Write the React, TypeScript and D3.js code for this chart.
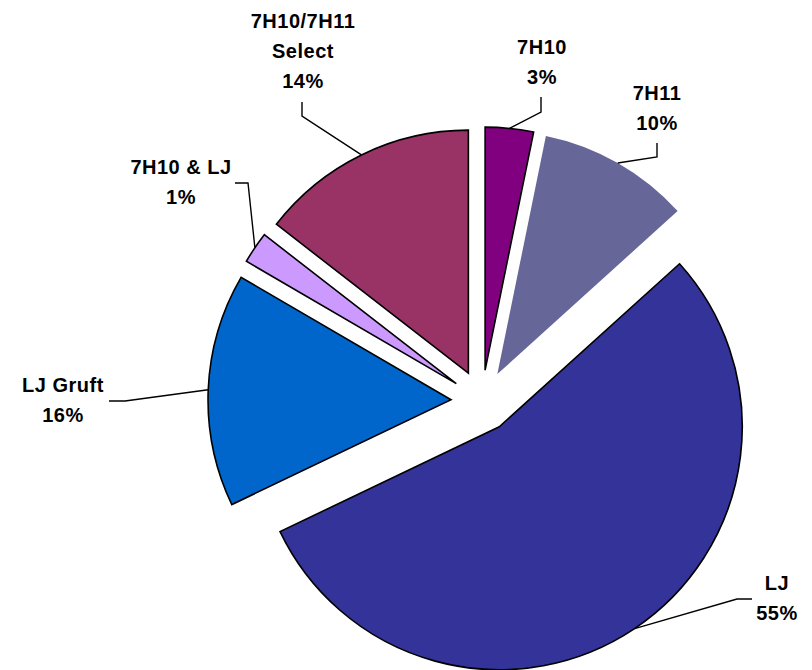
import React from "react";
import * as d3 from "d3";

// ---- data ----
const categories = ["7H10", "7H11", "LJ", "LJ Gruft", "7H10 & LJ", "7H10/7H11 Select"];
const values = [3.2, 10.1, 54.6, 15.5, 2.1, 14.5];
const percentLabels = ["3%", "10%", "55%", "16%", "1%", "14%"];
const labelLines = [["7H10"], ["7H11"], ["LJ"], ["LJ Gruft"], ["7H10 & LJ"], ["7H10/7H11", "Select"]];

// ---- styles / layout ----
const colors = ["#800080", "#666699", "#333399", "#0066CC", "#CC99FF", "#993366"];
const outlined = [true, false, true, true, true, true];
// label block: center x, first baseline y; elbow points of leader line
const labelPos = [
  { x: 542, y: 54, elbow: [[541, 97], [541, 112]] },
  { x: 657, y: 100, elbow: [[657, 143], [657, 157]] },
  { x: 777, y: 590, elbow: [[752, 599], [737, 599]] },
  { x: 63, y: 392, elbow: [[109, 401], [125, 401]] },
  { x: 181, y: 174, elbow: [[235, 183], [248, 183]] },
  { x: 303, y: 28, elbow: [[302, 102], [302, 116]] },
];

const W = 812;
const H = 670;
const cx = 482;
const cy = 401;
const R = 243;
const explode = 31;
const lineH = 30;

export default function App() {
  const pie = d3
    .pie<number>()
    .sort(null)
    .startAngle(0)
    .endAngle(2 * Math.PI)
    .value((d) => d);
  const arcs = pie(values);
  const arcGen = d3.arc<d3.PieArcDatum<number>>().innerRadius(0).outerRadius(R);

  return (
    <svg
      width={W}
      height={H}
      style={{ position: "absolute", left: 0, top: 0, background: "#fff" }}
      fontFamily="'Liberation Sans', Arial, sans-serif"
    >
      {arcs.map((a, i) => {
        const mid = (a.startAngle + a.endAngle) / 2;
        const ox = cx + explode * Math.sin(mid);
        const oy = cy - explode * Math.cos(mid);
        const px = ox + R * Math.sin(mid);
        const py = oy - R * Math.cos(mid);
        const lp = labelPos[i];
        const pts = [...lp.elbow, [px, py]];
        const lines = [...labelLines[i], percentLabels[i]];
        return (
          <g key={categories[i]}>
            <path
              d={arcGen(a) || ""}
              transform={`translate(${ox},${oy})`}
              fill={colors[i]}
              stroke={outlined[i] ? "#000" : "none"}
              strokeWidth={1.6}
              strokeLinejoin="miter"
            />
            <polyline
              points={pts.map((p) => p.join(",")).join(" ")}
              fill="none"
              stroke="#000"
              strokeWidth={1.4}
            />
            <text
              textAnchor="middle"
              fontSize={20}
              fontWeight="bold"
              letterSpacing={0.5}
              fill="#000"
            >
              {lines.map((t, j) => (
                <tspan key={j} x={lp.x} y={lp.y + j * lineH}>
                  {t}
                </tspan>
              ))}
            </text>
          </g>
        );
      })}
    </svg>
  );
}
